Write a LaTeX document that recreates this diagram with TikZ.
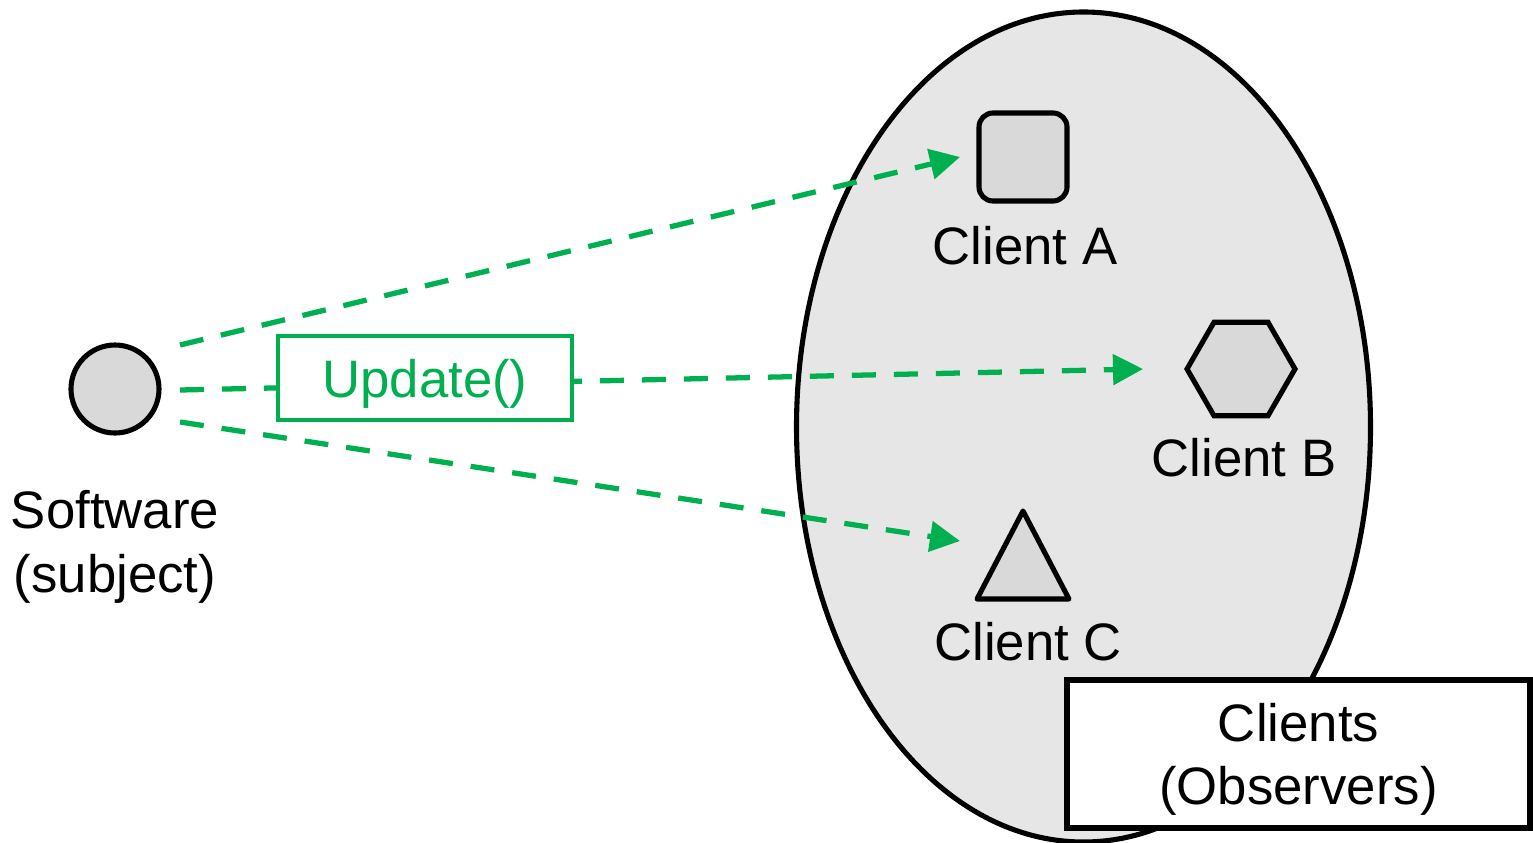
\documentclass[tikz,border=0pt]{standalone}
\usepackage{fontspec}
\setmainfont{Liberation Sans}
\usetikzlibrary{shapes.geometric, arrows.meta}

\definecolor{updgreen}{HTML}{00B050}
\definecolor{shapegray}{HTML}{D9D9D9}
\definecolor{groupgray}{HTML}{E6E6E6}

\begin{document}
\begin{tikzpicture}[
    every node/.style={font=\fontsize{15pt}{18pt}\selectfont},
    outline/.style={draw=black, line width=1.45pt},
    notify/.style={draw=updgreen, line width=1.5pt, dash pattern=on 0.24cm off 0.18cm,
        -{Triangle[length=0.3cm, width=0.3cm]}},
    ]
    \useasboundingbox (0,0) rectangle (15.33,8.42);

    % group of observers
    \node[outline, ellipse, fill=groupgray, minimum width=5.74cm, minimum height=8.3cm,
        inner sep=0pt] (group) at (10.835,4.15) {};

    % subject
    \node[outline, circle, fill=shapegray, minimum size=0.88cm, inner sep=0pt] (subject) at (1.15,4.53) {};
    \node[align=center] (subjlbl) at (1.15,2.95) {Software\\(subject)};

    % clients
    \node[outline, fill=shapegray, rounded corners=0.14cm, minimum size=0.88cm] (clientA) at (10.23,6.85) {};
    \node (lblA) at (10.25,5.96) {Client A};
    \node[outline, fill=shapegray, regular polygon, regular polygon sides=6, minimum size=1.08cm,
        inner sep=0pt] (clientB) at (12.41,4.73) {};
    \node (lblB) at (12.44,3.84) {Client B};
    \coordinate (triTop) at (10.23,3.31);
    \coordinate (triLeft) at (9.77,2.43);
    \coordinate (triRight) at (10.69,2.43);
    \draw[outline, fill=shapegray, line join=round] (triTop) -- (triRight) -- (triLeft) -- cycle;
    \node (lblC) at (10.28,2.00) {Client C};

    % update calls
    \coordinate (fromA) at (1.80,4.97);
    \coordinate (fromB) at (1.80,4.52);
    \coordinate (fromC) at (1.80,4.20);
    \coordinate (toA) at (9.60,6.85);
    \coordinate (toB) at (11.43,4.73);
    \coordinate (toC) at (9.60,3.01);
    \draw[notify] (fromA) -- (toA);
    \draw[notify] (fromB) -- (toB);
    \draw[notify] (fromC) -- (toC);
    \node[draw=updgreen, line width=1.4pt, fill=white, text=updgreen, minimum width=2.94cm,
        minimum height=0.84cm, text depth=0pt] (update) at (4.25,4.64) {Update()};

    \node[outline, fill=white, align=center, minimum width=4.63cm, minimum height=1.48cm,
        text depth=0pt] (grouplbl) at (12.985,0.88) {Clients\\(Observers)};
\end{tikzpicture}
\end{document}
